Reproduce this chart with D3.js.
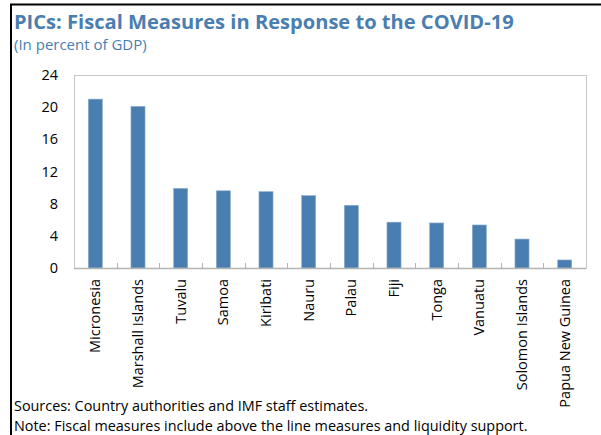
<!DOCTYPE html>
<html>
<head>
<meta charset="utf-8">
<script src="https://cdn.jsdelivr.net/npm/d3@7"></script>
<style>
  body { margin: 0; background: #fff; }
  svg { display: block; font-family: "Open Sans", sans-serif; }
</style>
</head>
<body>
<script>
const countries = ['Micronesia', 'Marshall Islands', 'Tuvalu', 'Samoa', 'Kiribati', 'Nauru',
  'Palau', 'Fiji', 'Tonga', 'Vanuatu', 'Solomon Islands', 'Papua New Guinea'];
const values = [21.0, 20.1, 9.9, 9.6, 9.5, 9.0, 7.8, 5.7, 5.6, 5.35, 3.6, 1.0];
const yTicks = [0, 4, 8, 12, 16, 20, 24];

const width = 601, height = 435;
const margin = { top: 75, right: 15, bottom: 167, left: 74 };
const blue = '#4a7eb0';

const svg = d3.select('body').append('svg')
    .attr('width', width)
    .attr('height', height);

// outer black frame (top + left)
svg.append('path')
    .attr('d', `M11,${height} V4.5 H${width}`)
    .attr('fill', 'none')
    .attr('stroke', '#000')
    .attr('stroke-width', 2);

svg.append('text')
    .attr('x', 14).attr('y', 28.5)
    .attr('fill', blue)
    .attr('font-size', 20.1)
    .attr('font-weight', 'bold')
    .text('PICs: Fiscal Measures in Response to the COVID-19');

svg.append('text')
    .attr('x', 14).attr('y', 49.5)
    .attr('fill', blue)
    .attr('font-size', 15)
    .text('(In percent of GDP)');

const x = d3.scaleBand()
    .domain(countries)
    .range([margin.left, width - margin.right])
    .paddingInner(0.67)
    .paddingOuter(0.335);

const y = d3.scaleLinear()
    .domain([0, 24])
    .range([height - margin.bottom, margin.top]);

// plot frame
svg.append('rect')
    .attr('x', margin.left + 0.5)
    .attr('y', y(24) + 0.5)
    .attr('width', width - margin.right - margin.left)
    .attr('height', y(0) - y(24))
    .attr('fill', 'none')
    .attr('stroke', '#c8c8c8');

svg.append('g')
    .selectAll('rect')
    .data(values)
    .join('rect')
      .attr('x', (d, i) => x(countries[i]))
      .attr('y', d => y(d))
      .attr('width', x.bandwidth())
      .attr('height', d => y(0) - y(d))
      .attr('fill', blue)
      .attr('stroke', '#8fb0d2')
      .attr('stroke-width', 0.6);

// y axis labels
svg.append('g')
    .attr('transform', `translate(${margin.left},0)`)
    .call(d3.axisLeft(y).tickValues(yTicks).tickSize(0).tickPadding(16))
    .call(g => g.select('.domain').remove())
    .call(g => g.selectAll('text').attr('font-size', 14.5).attr('fill', '#000').attr('font-family', '"Open Sans", sans-serif'));

// x axis line with inside ticks between categories
const tickPos = d3.range(1, countries.length).map(i => margin.left + i * (width - margin.right - margin.left) / countries.length);
svg.append('line')
    .attr('x1', margin.left).attr('x2', width - margin.right)
    .attr('y1', y(0) + 0.5).attr('y2', y(0) + 0.5)
    .attr('stroke', '#b4b4b4')
    .attr('stroke-width', 1.5);
svg.append('g')
    .selectAll('line')
    .data(tickPos)
    .join('line')
      .attr('x1', d => Math.round(d) + 0.5).attr('x2', d => Math.round(d) + 0.5)
      .attr('y1', y(0)).attr('y2', y(0) - 5)
      .attr('stroke', '#b4b4b4');

svg.append('g')
    .selectAll('text')
    .data(countries)
    .join('text')
      .attr('transform', d => `translate(${x(d) + x.bandwidth() / 2 + 5},${y(0) + 11}) rotate(-90)`)
      .attr('text-anchor', 'end')
      .attr('font-size', 14.5)
      .attr('fill', '#000')
      .text(d => d);

svg.append('text')
    .attr('x', 14).attr('y', 410.5)
    .attr('font-size', 14.4)
    .text('Sources: Country authorities and IMF staff estimates.');

svg.append('text')
    .attr('x', 14).attr('y', 430.5)
    .attr('font-size', 14.4)
    .text('Note: Fiscal measures include above the line measures and liquidity support.');
</script>
</body>
</html>
